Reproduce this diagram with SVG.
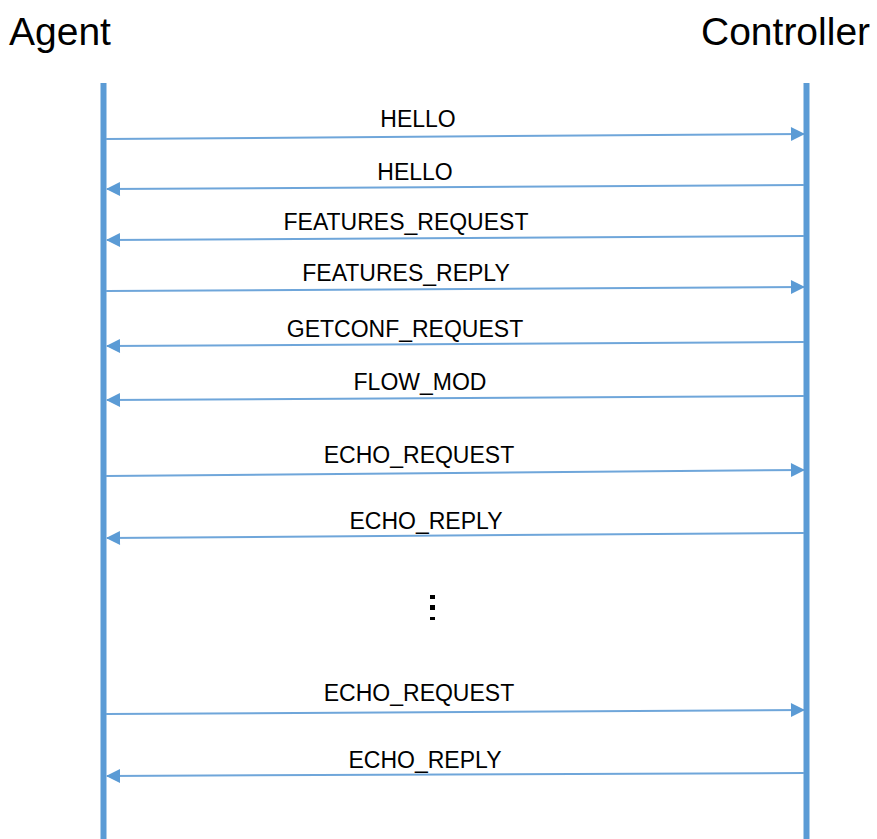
<svg xmlns="http://www.w3.org/2000/svg" width="877" height="839" viewBox="0 0 877 839">
<style>
.title{font-family:"Liberation Sans",Arial,sans-serif;font-size:39px;fill:#000}
.lbl{font-family:"Liberation Sans",Arial,sans-serif;font-size:23px;fill:#000;text-anchor:middle}
.life{stroke:#5B9BD5;stroke-width:6;fill:none}
.msg{stroke:#6FA6DA;stroke-width:2;fill:none}
.r{marker-end:url(#ah)}
</style>
<defs>
<marker id="ah" markerUnits="userSpaceOnUse" markerWidth="16" markerHeight="16" viewBox="0 0 16 16" refX="14" refY="8" orient="auto">
<path d="M1,1 L15,8 L1,15 Z" fill="#5B9BD5"/>
</marker>
</defs>
<rect width="877" height="839" fill="#fff"/>
<g id="agent">
<text class="title" x="9" y="45">Agent</text>
<line class="life" x1="103.5" y1="83" x2="103.5" y2="839"/>
</g>
<g id="controller">
<text class="title" x="701" y="45">Controller</text>
<line class="life" x1="806.5" y1="83" x2="806.5" y2="839"/>
</g>
<g id="connectors">
<line class="msg r" x1="106" y1="139" x2="804" y2="134"/>
<line class="msg r" x1="804" y1="185" x2="107" y2="189"/>
<line class="msg r" x1="804" y1="236" x2="107" y2="240"/>
<line class="msg r" x1="106" y1="291" x2="804" y2="287"/>
<line class="msg r" x1="804" y1="342" x2="107" y2="346"/>
<line class="msg r" x1="804" y1="396" x2="107" y2="400"/>
<line class="msg r" x1="106" y1="476" x2="804" y2="470"/>
<line class="msg r" x1="804" y1="533" x2="107" y2="538"/>
<line class="msg r" x1="106" y1="714" x2="804" y2="710"/>
<line class="msg r" x1="804" y1="773" x2="107" y2="776"/>
</g>
<g id="labels">
<text class="lbl" x="418" y="127">HELLO</text>
<text class="lbl" x="415" y="180">HELLO</text>
<text class="lbl" x="406" y="230">FEATURES_REQUEST</text>
<text class="lbl" x="406" y="281">FEATURES_REPLY</text>
<text class="lbl" x="405" y="337">GETCONF_REQUEST</text>
<text class="lbl" x="420" y="390">FLOW_MOD</text>
<text class="lbl" x="419" y="463">ECHO_REQUEST</text>
<text class="lbl" x="426" y="529">ECHO_REPLY</text>
<text class="lbl" x="419" y="701">ECHO_REQUEST</text>
<text class="lbl" x="425" y="768">ECHO_REPLY</text>
</g>
<g id="ellipsis" fill="#000">
<rect x="430" y="595" width="5" height="4"/>
<rect x="430" y="605" width="5" height="5"/>
<rect x="430" y="617" width="5" height="3"/>
</g>
</svg>
